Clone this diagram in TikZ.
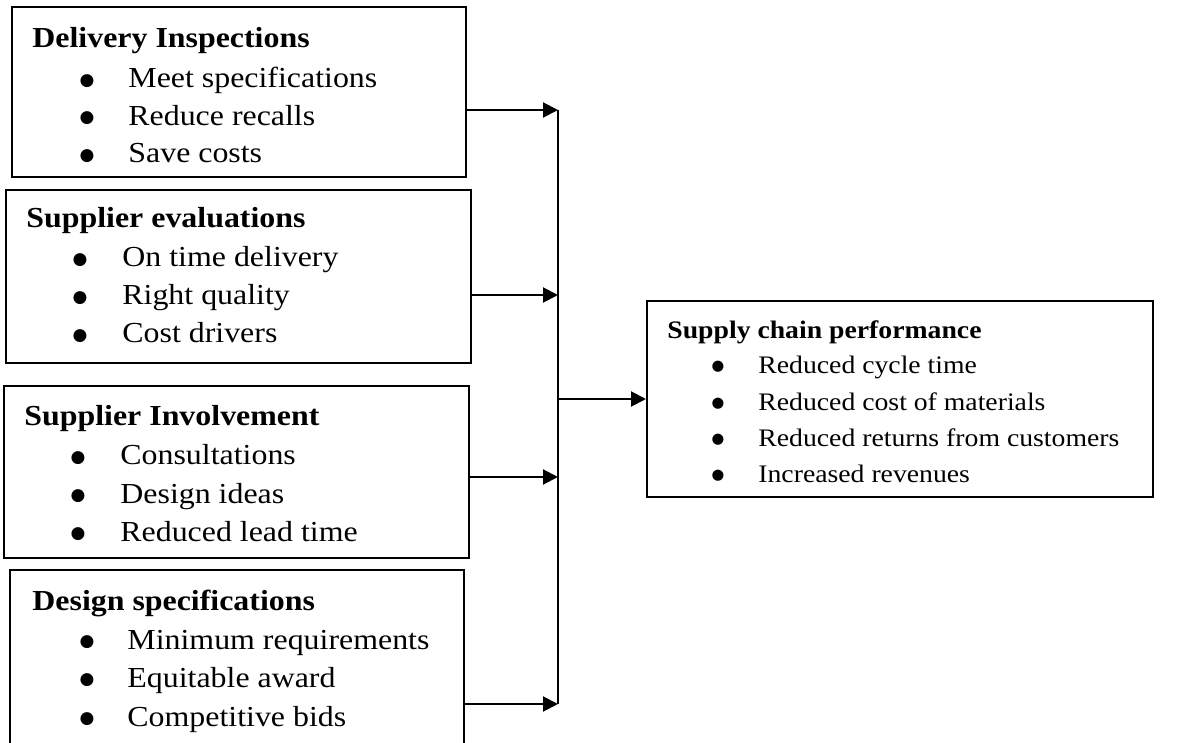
\documentclass[tikz,border=0pt]{standalone}
\usepackage{fontspec}
\setmainfont{Liberation Serif}[FakeStretch=1.1]
\newfontfamily\dotfont{DejaVu Sans}
\usetikzlibrary{arrows.meta,fit}
\newcommand\lfont{\fontsize{14.5}{17}\selectfont}
\newcommand\rfont{\fontsize{12.6}{15}\selectfont}
\tikzset{
  panel/.style={draw,line width=1pt,inner sep=0pt},
  head/.style={anchor=base west,inner sep=0pt,font=\lfont\bfseries},
  entry/.style={anchor=base west,inner sep=0pt,font=\lfont},
  dot/.style={anchor=center,inner sep=0pt,font=\dotfont\fontsize{8.5}{9}\selectfont},
  link/.style={line width=1pt,-{Triangle[length=7.5pt,width=7.5pt]}},
}
\begin{document}
\begin{tikzpicture}[x=0.5pt,y=-0.5pt,line join=miter]
  \useasboundingbox (0,0) rectangle (1179,743);
  \clip (0,0) rectangle (1179,743);
  % delivery inspections
  \node[panel,fit={(12,7) (466,177)}] (b1) {};
  \node[head] (t1) at (32,48) {Delivery Inspections};
  \foreach \txt [count=\k] in {Meet specifications,Reduce recalls,Save costs}{
    \node[dot] (p1-\k) at (87,{81+37.5*(\k-1)}) {●};
    \node[entry] (e1-\k) at (128,{88+37.5*(\k-1)}) {\txt};
  }
  % supplier evaluations
  \node[panel,fit={(6,190) (471,363)}] (b2) {};
  \node[head] (t2) at (26,228) {Supplier evaluations};
  \foreach \txt [count=\k] in {On time delivery,Right quality,Cost drivers}{
    \node[dot] (p2-\k) at (80,{260+38*(\k-1)}) {●};
    \node[entry] (e2-\k) at (122,{267+38*(\k-1)}) {\txt};
  }
  % supplier involvement
  \node[panel,fit={(4,386) (469,558)}] (b3) {};
  \node[head] (t3) at (24,426) {Supplier Involvement};
  \foreach \txt [count=\k] in {Consultations,Design ideas,Reduced lead time}{
    \node[dot] (p3-\k) at (78,{458+38*(\k-1)}) {●};
    \node[entry] (e3-\k) at (120,{465+38*(\k-1)}) {\txt};
  }
  % design specifications (runs off the page)
  \node[panel,fit={(10,570) (464,790)}] (b4) {};
  \node[head] (t4) at (32,610) {Design specifications};
  \foreach \txt [count=\k] in {Minimum requirements,Equitable award,Competitive bids}{
    \node[dot] (p4-\k) at (87,{642+38.5*(\k-1)}) {●};
    \node[entry] (e4-\k) at (127,{649+38.5*(\k-1)}) {\txt};
  }
  % supply chain performance
  \node[panel,fit={(647,301) (1153,497)}] (rb) {};
  \node[head,font=\rfont\bfseries] (tr) at (667,339) {Supply chain performance};
  \foreach \txt [count=\k] in {Reduced cycle time,Reduced cost of materials,Reduced returns from customers,Increased revenues}{
    \node[dot,font=\dotfont\fontsize{7.3}{8}\selectfont] (pr-\k) at (718,{367+36.3*(\k-1)}) {●};
    \node[entry,font=\rfont] (er-\k) at (758,{374+36.3*(\k-1)}) {\txt};
  }
  % collector line
  \coordinate (j1) at (558,110);
  \coordinate (j2) at (558,295);
  \coordinate (j3) at (558,477);
  \coordinate (j4) at (558,704);
  \coordinate (jo) at (558,399);
  \draw[line width=1pt] (j1) -- (j4);
  \draw[link] (b1.east |- j1) -- (j1);
  \draw[link] (b2.east |- j2) -- (j2);
  \draw[link] (b3.east |- j3) -- (j3);
  \draw[link] (b4.east |- j4) -- (j4);
  \draw[link] (jo) -- (rb.west);
\end{tikzpicture}
\end{document}
